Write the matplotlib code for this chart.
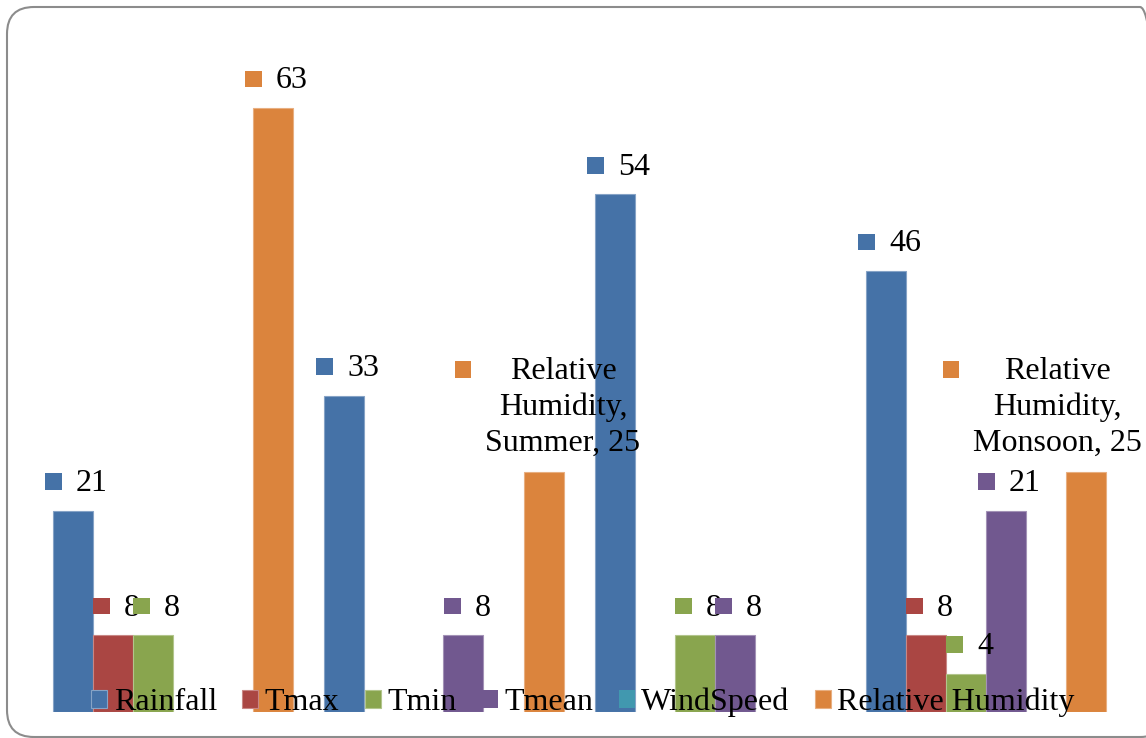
import matplotlib.pyplot as plt
import matplotlib.colors as mcolors
from matplotlib.patches import FancyBboxPatch, Rectangle
from matplotlib.offsetbox import AnnotationBbox, DrawingArea, TextArea, HPacker
from matplotlib.transforms import IdentityTransform

plt.rcParams['font.family'] = ['Liberation Serif', 'DejaVu Serif']

seasons = ['Winter', 'Summer', 'Post-Monsoon', 'Monsoon']
series = ['Rainfall', 'Tmax', 'Tmin', 'Tmean', 'WindSpeed', 'Relative Humidity']
rainfall = [21, 33, 54, 46]
tmax = [8, 0, 0, 8]
tmin = [8, 0, 8, 4]
tmean = [0, 8, 8, 21]
wind_speed = [0, 0, 0, 0]
rel_humidity = [63, 25, 0, 25]
colors = ['#4572A7', '#AA4643', '#89A54E', '#71588F', '#4198AF', '#DB843D']

values = [rainfall, tmax, tmin, tmean, wind_speed, rel_humidity]

# labels that show series and category name as well as the value
long_labels = {(5, 1), (5, 3)}
# horizontal nudge (points) for labels that would run off the chart
label_shift = {(5, 3): -34}

fig = plt.figure(figsize=(11.46, 7.38), dpi=100)
ax = fig.add_axes([37 / 1146, 26 / 738, 1084 / 1146, 671 / 738])
ax.set_xlim(-0.5, 3.5)
ax.set_ylim(0, 70)
ax.set_axis_off()

width = 40 / 271
fs = 23

for j, (name, vals, col) in enumerate(zip(series, values, colors)):
    xs = [i + (j - 2.5) * width for i in range(len(seasons))]
    edge = mcolors.to_rgb(col)
    edge = tuple(c + (1 - c) * 0.35 for c in edge)
    bars = ax.bar(xs, vals, width, color=col, edgecolor=edge, linewidth=0.8, label=name)
    for b, v in zip(bars, vals):
        if v == 0:
            b.set_linewidth(0)

    # data labels: legend key square + value text above each bar
    for i, (x, v) in enumerate(zip(xs, vals)):
        if v == 0:
            continue
        if (j, i) in long_labels:
            txt = 'Relative\nHumidity,\n%s, %d' % (seasons[i], v)
            dy = 10.5
        else:
            txt = str(v)
            dy = 6
        da = DrawingArea(12, 24, 0, 0)
        da.add_artist(Rectangle((0, 9), 12, 12, facecolor=col, edgecolor='none'))
        ta = TextArea(txt, textprops=dict(fontsize=fs, color='black',
                                          multialignment='center', linespacing=1.3))
        pack = HPacker(children=[da, ta], sep=10, pad=0, align='top')
        ab = AnnotationBbox(pack, (x, v), xybox=(3 + label_shift.get((j, i), 0), dy),
                            xycoords='data', boxcoords='offset points',
                            box_alignment=(0.5, 0), frameon=False, pad=0,
                            annotation_clip=False)
        ax.add_artist(ab)

ax.legend(loc='lower center', bbox_to_anchor=(0.5037, -0.0075), ncol=6, frameon=False,
          fontsize=fs, handlelength=0.5, handleheight=0.5, handletextpad=0.2,
          columnspacing=0.8, borderpad=0, borderaxespad=0)

# rounded frame around the chart area
frame = FancyBboxPatch((7, 1), 1160, 730, boxstyle='round,pad=0,rounding_size=27',
                       transform=IdentityTransform(), facecolor='none',
                       edgecolor='#8c8c8c', linewidth=1.5, clip_on=False)
fig.add_artist(frame)

fig.savefig('out.png', dpi=100, facecolor='white')
